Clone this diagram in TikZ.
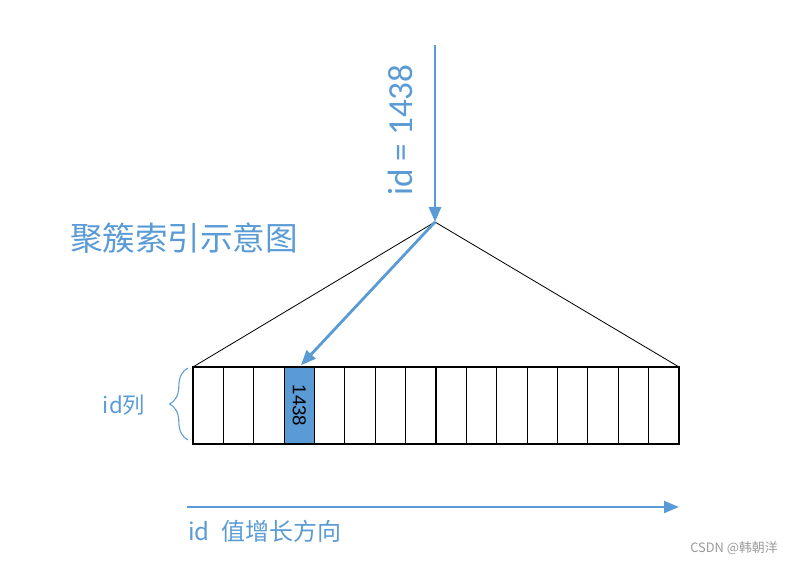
\documentclass[tikz,border=0pt]{standalone}
\usepackage{fontspec}
\setmainfont{Carlito}
\newfontfamily\cjk{Noto Sans CJK SC}
\newfontfamily\arialf{Liberation Sans}
\usetikzlibrary{arrows.meta,positioning,decorations.pathreplacing}
\definecolor{idblue}{HTML}{5B9BD5}
\definecolor{wmgray}{HTML}{9A9A9A}
\tikzset{
  cell/.style={draw=black, line width=1pt, minimum width=0.912cm, minimum height=2.31cm, inner sep=0pt, outer sep=0pt},
  hit/.style={cell, fill=idblue},
  flow/.style={draw=idblue, line width=2.4pt, -{Triangle[length=0.45cm,width=0.36cm]}},
  tri/.style={draw=black, line width=0.7pt, line join=round},
  brc/.style={draw=idblue, line width=0.9pt, decorate, decoration={brace, amplitude=0.55cm}},
  lab/.style={text=idblue},
}

\begin{document}
\begin{tikzpicture}[x=0.03cm, y=-0.03cm]
\useasboundingbox (0,0) rectangle (799,564);

% id column, 16 cells
\foreach \i in {1,...,16}{
  \node[cell] (c\i) at ({193+(\i-0.5)*30.375},405.5) {};
}
\node[hit] (c4) at ({193+3.5*30.375},405.5) {};
\node[rotate=-90, font=\arialf\fontsize{16}{18}\selectfont] (hitval) at (c4) {1438};

% tree triangle
\coordinate (apex) at (435,222);
\coordinate (top) at (435,45);
\draw[tri] (c1.north west) -- (apex) -- (c16.north east);

% search path
\draw[flow] (top) -- (apex);
\draw[flow, shorten >=2pt] (apex) -- (c4.north);
\node[lab, rotate=90, font=\fontsize{30}{32}\selectfont] (query) at (400,130) {id = 1438};

% title
\node[lab, font=\cjk\fontsize{27.8}{30}\selectfont] (title) at (184,238) {聚簇索引示意图};

% brace for the column
\coordinate (bb) at (188,440);
\coordinate (bt) at (188,368);
\draw[brc] (bb) -- (bt);
\node[lab, font=\cjk\fontsize{19}{22}\selectfont] (col) at (124,405) {id列};

% direction of growing id
\coordinate (axl) at (187,507);
\coordinate (axr) at (679,507);
\draw[flow, line width=2pt] (axl) -- (axr);
\node[lab, anchor=west, font=\cjk\fontsize{20.5}{22}\selectfont] (dir) at (184,531) {id\hspace{0.5em}值增长方向};

% watermark
\node[text=wmgray, font=\cjk\fontsize{11}{13}\selectfont] (wm) at (734,548) {CSDN @韩朝洋};
\end{tikzpicture}
\end{document}
